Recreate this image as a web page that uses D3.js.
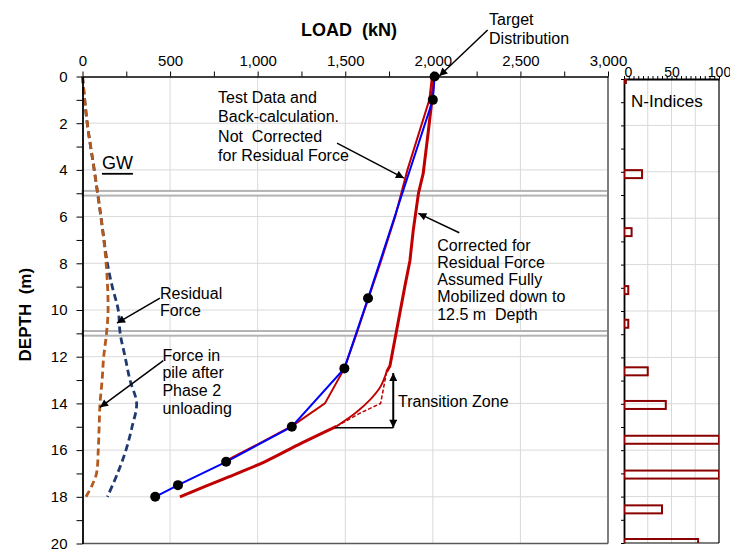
<!DOCTYPE html>
<html>
<head>
<meta charset="utf-8">
<script src="https://cdn.jsdelivr.net/npm/d3@7"></script>
<style>
body { margin: 0; background: #fff; }
text { font-family: "Liberation Sans", Arial, sans-serif; fill: #000; }
</style>
</head>
<body>
<div id="chart"></div>
<script>
// measured test points (load kN at depth m)
const testDepth = [0, 1, 9.5, 12.5, 15, 16.5, 17.5, 18]
const testLoad  = [2010, 2000, 1630, 1495, 1195, 820, 545, 415]

// back-calculation, not corrected for residual force
const backDepth = [0, 1, 4, 6, 8, 9.5, 11, 12.5, 14, 14.95, 15.75, 16.45]
const backLoad  = [1995, 1980, 1855, 1785, 1700, 1632, 1565, 1495, 1384, 1200, 1000, 820]

// corrected for residual force (upper part, transition, lower part)
const corrUpperDepth = [0, 1, 2.3, 4.15, 5, 6.6, 7.9, 9, 11, 12.4, 12.65]
const corrUpperLoad  = [2005, 1995, 1975, 1945, 1918, 1888, 1869, 1840, 1790, 1755, 1736]
const transDepth = [12.65, 13.3, 13.85, 14.4, 14.98]
const transLoad  = [1736, 1700, 1641, 1560, 1450]
const transDashDepth = [12.65, 14.0, 14.42, 14.98]
const transDashLoad  = [1736, 1702, 1584, 1450]
const corrLowerDepth = [14.98, 15.7, 16.5, 17.25, 18]
const corrLowerLoad  = [1450, 1250, 1040, 800, 556]

// residual force and force after phase 2 unloading
const residualDepth = [0, 2, 4, 6, 8, 9, 10, 11, 12, 13, 14, 15, 16, 17, 18]
const residualLoad  = [0, 27, 67, 105, 142, 170, 204, 215, 243, 271, 309, 283, 248, 200, 142]
const unloadDepth = [0, 2, 4, 6, 8, 10, 11, 12, 13, 14, 15, 16, 17, 17.5, 18]
const unloadLoad  = [0, 27, 67, 105, 135, 146, 137, 121, 112, 100, 95, 90, 80, 55, 20]

// N-indices
const nDepth = [0, 4.1, 6.6, 9.1, 10.55, 12.6, 14.05, 15.55, 17.05, 18.55, 20]
const nValue = [2, 19, 8, 4.5, 4.5, 25, 44, 100, 100, 40, 78]

// GW / layer bands (depth m)
const bandTop = [4.9, 10.9]
const bandBottom = [5.1, 11.1]

const pts = (d, l) => d3.zip(l, d)

let svg = d3.select("#chart").append("svg")
            .attr("width", 730).attr("height", 550)

let x = d3.scaleLinear().domain([0, 3000]).range([82.5, 608])
let y = d3.scaleLinear().domain([0, 20]).range([76.5, 543.5])
let xN = d3.scaleLinear().domain([0, 100]).range([624, 719])
let yN = d3.scaleLinear().domain([0, 20]).range([79, 543])

//arrow marker
svg.append("defs").append("marker")
   .attr("id", "arr").attr("viewBox", "0 0 10 10")
   .attr("refX", 10).attr("refY", 5)
   .attr("markerWidth", 10).attr("markerHeight", 8)
   .attr("markerUnits", "userSpaceOnUse")
   .attr("orient", "auto-start-reverse")
   .append("path").attr("d", "M0,0 L10,5 L0,10 z").attr("fill", "#000")

svg.append("defs").append("clipPath").attr("id", "nclip")
   .append("rect").attr("x", xN(0)).attr("y", yN(0))
   .attr("width", xN(100) - xN(0)).attr("height", yN(20) - yN(0))

// ---- main grid
let grid = svg.append("g").attr("stroke", "#d9d9d9").attr("stroke-width", 1)
grid.selectAll(".gx").data(d3.range(500, 3000, 500)).enter().append("line")
    .attr("x1", d => x(d)).attr("x2", d => x(d)).attr("y1", y(0)).attr("y2", y(20))
grid.selectAll(".gy").data(d3.range(2, 20, 2)).enter().append("line")
    .attr("x1", x(0)).attr("x2", x(3000)).attr("y1", d => y(d)).attr("y2", d => y(d))

// N grid
grid.selectAll(".gnx").data([25, 50, 75]).enter().append("line")
    .attr("x1", d => xN(d)).attr("x2", d => xN(d)).attr("y1", yN(0)).attr("y2", yN(20))
grid.selectAll(".gny").data(d3.range(2, 20, 2)).enter().append("line")
    .attr("x1", xN(0)).attr("x2", xN(100)).attr("y1", d => yN(d)).attr("y2", d => yN(d))

// GW bands
svg.selectAll(".band").data(d3.zip(bandTop, bandBottom)).enter().append("rect")
   .attr("x", x(0)).attr("y", d => y(d[0]))
   .attr("width", x(3000) - x(0)).attr("height", d => y(d[1]) - y(d[0]))
   .attr("fill", "#fff").attr("stroke", "#b3b3b3").attr("stroke-width", 2)

// plot frame right / bottom
svg.append("line").attr("x1", x(3000)).attr("x2", x(3000)).attr("y1", y(0)).attr("y2", y(20))
   .attr("stroke", "#7f7f7f").attr("stroke-width", 2)
svg.append("line").attr("x1", x(0)).attr("x2", x(3000)).attr("y1", y(20)).attr("y2", y(20))
   .attr("stroke", "#595959").attr("stroke-width", 1.5)

let line = d3.line().x(d => x(d[0])).y(d => y(d[1]))
let smooth = d3.line().x(d => x(d[0])).y(d => y(d[1])).curve(d3.curveCatmullRom)

function path(data, gen, color, width, dash) {
    svg.append("path").datum(data).attr("d", gen)
       .attr("fill", "none").attr("stroke", color).attr("stroke-width", width)
       .attr("stroke-dasharray", dash || null)
}

// residual + unloading dashed curves
path(pts(residualDepth, residualLoad), smooth, "#1f3a6e", 2.8, "7,4")
path(pts(unloadDepth, unloadLoad), smooth, "#b35a1c", 2.8, "7,4")

// corrected curve
path(pts(corrUpperDepth, corrUpperLoad), line, "#c00000", 3)
path(pts(transDepth, transLoad), smooth, "#c00000", 1.8)
path(pts(transDashDepth, transDashLoad), line, "#c00000", 1.5, "4,2")
path(pts(corrLowerDepth, corrLowerLoad), smooth, "#c00000", 3)

// back-calculation and test data
path(pts(backDepth, backLoad), line, "#c00000", 2)
path(pts(testDepth, testLoad), line, "#0000ff", 2)

svg.selectAll(".dot").data(pts(testDepth, testLoad)).enter().append("circle")
   .attr("cx", d => x(d[0])).attr("cy", d => y(d[1])).attr("r", 5).attr("fill", "#000")

// ---- axes
let topAxis = svg.append("g").attr("transform", `translate(0,${y(0)})`)
    .call(d3.axisTop(x).tickValues(d3.range(0, 3001, 250)).tickSize(5).tickSizeOuter(0).tickPadding(6)
           .tickFormat(d => d % 500 === 0 ? d3.format(",")(d) : ""))
let leftAxis = svg.append("g").attr("transform", `translate(${x(0)},0)`)
    .call(d3.axisLeft(y).tickValues(d3.range(0, 21, 1)).tickSize(6).tickSizeOuter(0).tickPadding(9)
           .tickFormat(d => d % 2 === 0 ? d : ""))
let nTop = svg.append("g").attr("transform", `translate(0,${yN(0)})`)
    .call(d3.axisTop(xN).tickValues(d3.range(0, 101, 5)).tickSize(3).tickSizeOuter(0).tickPadding(-1)
           .tickFormat(d => d % 50 === 0 ? d : ""))
let nLeft = svg.append("g").attr("transform", `translate(${xN(0)},0)`)
    .call(d3.axisLeft(yN).tickValues(d3.range(0, 21, 1)).tickSize(3).tickSizeOuter(0).tickFormat(""))

for (let g of [topAxis, leftAxis, nTop, nLeft]) {
    g.selectAll("text").attr("font-size", 15).style("font-family", '"Liberation Sans", Arial, sans-serif')
    g.select(".domain").attr("stroke-width", 1.8)
}
nTop.selectAll("text").attr("font-size", 14)
nTop.selectAll("text").filter(d => d === 0).attr("dx", 4)
topAxis.select(".domain").attr("stroke-width", 1.5)

// N panel right/bottom frame
svg.append("line").attr("x1", xN(100)).attr("x2", xN(100)).attr("y1", yN(0)).attr("y2", yN(20))
   .attr("stroke", "#000").attr("stroke-width", 1.2)
svg.append("line").attr("x1", xN(0)).attr("x2", xN(100)).attr("y1", yN(20)).attr("y2", yN(20))
   .attr("stroke", "#000").attr("stroke-width", 1.2)

// N bars
svg.append("g").attr("clip-path", "url(#nclip)")
   .selectAll("rect").data(d3.zip(nDepth, nValue)).enter().append("rect")
   .attr("x", xN(0)).attr("y", d => yN(d[0]) - 4)
   .attr("width", d => xN(d[1]) - xN(0)).attr("height", 8)
   .attr("fill", "none").attr("stroke", "#8b0000").attr("stroke-width", 2)

// ---- titles
svg.append("text").attr("x", x(1521)).attr("y", 36).attr("text-anchor", "middle")
   .attr("font-size", 18).attr("font-weight", "bold").attr("xml:space", "preserve")
   .text("LOAD  (kN)")
svg.append("text").attr("transform", `translate(31,${y(10.2)}) rotate(-90)`).attr("text-anchor", "middle")
   .attr("font-size", 17).attr("font-weight", "bold").attr("xml:space", "preserve")
   .text("DEPTH  (m)")
svg.append("text").attr("x", 631).attr("y", 101).attr("dominant-baseline", "central")
   .attr("font-size", 17).text("N-Indices")

// ---- annotations [load, depth, lines, lineGap]
const notes = [
    [774, 0.88, ["Test Data and", "Back-calculation.", "Not  Corrected", "for Residual Force"], 0.84],
    [442, 9.29, ["Residual", "Force"], 0.72],
    [456, 11.93, ["Force in", "pile after", "Phase 2", "unloading"], 0.76],
    [2025, 7.22, ["Corrected for", "Residual Force", "Assumed Fully", "Mobilized down to", "12.5 m  Depth"], 0.74],
    [1801, 13.93, ["Transition Zone"], 0],
    [2321, -2.46, ["Target", "Distribution"], 0.82]
]
notes.forEach(n => {
    n[2].forEach((t, i) => {
        svg.append("text").attr("x", x(n[0])).attr("y", y(n[1] + i * n[3]))
           .attr("dominant-baseline", "central").attr("font-size", 16)
           .attr("xml:space", "preserve").text(t)
    })
})
svg.append("text").attr("x", x(111)).attr("y", y(3.7)).attr("dominant-baseline", "central")
   .attr("font-size", 18).attr("text-decoration", "underline").text("GW")

// arrows [load1, depth1, load2, depth2]
const arrows = [
    [2313, -1.99, 2037, -0.02],
    [1453, 2.85, 1835, 4.35],
    [442, 9.49, 197, 10.56],
    [461, 12.17, 100, 14.17],
    [2151, 6.69, 1917, 5.86]
]
svg.selectAll(".arrow").data(arrows).enter().append("line")
   .attr("x1", d => x(d[0])).attr("y1", d => y(d[1]))
   .attr("x2", d => x(d[2])).attr("y2", d => y(d[3]))
   .attr("stroke", "#000").attr("stroke-width", 1.5).attr("marker-end", "url(#arr)")

// transition zone bracket
svg.append("line").attr("x1", x(1774)).attr("x2", x(1774)).attr("y1", y(12.7)).attr("y2", y(15.04))
   .attr("stroke", "#000").attr("stroke-width", 2)
   .attr("marker-start", "url(#arr)").attr("marker-end", "url(#arr)")
svg.append("line").attr("x1", x(1441)).attr("x2", x(1774)).attr("y1", y(15.04)).attr("y2", y(15.04))
   .attr("stroke", "#000").attr("stroke-width", 1.5)
</script>
</body>
</html>
